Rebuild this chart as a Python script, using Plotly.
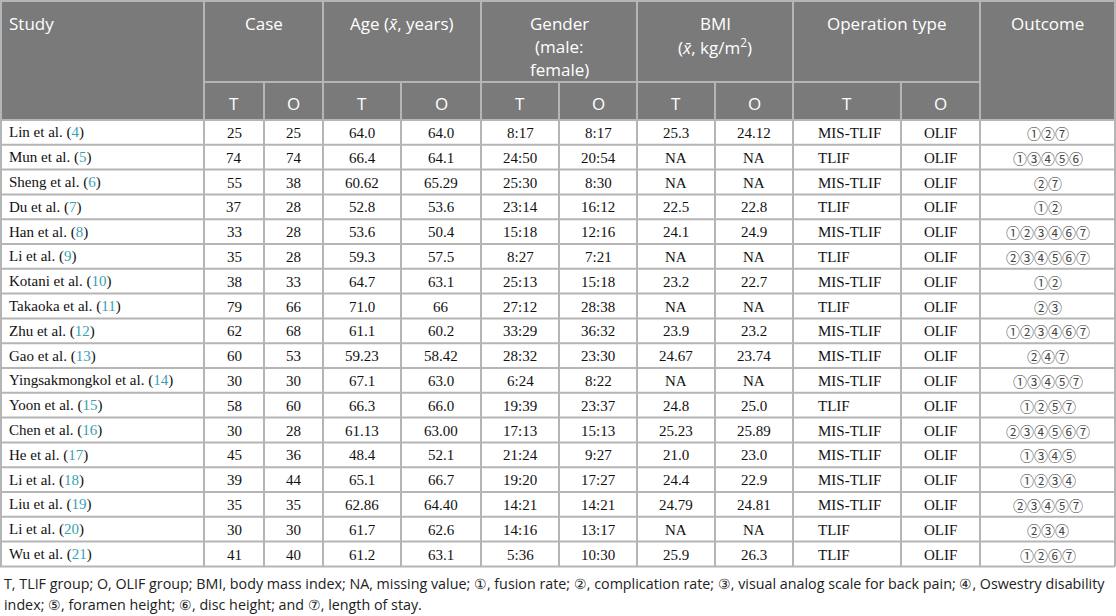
import plotly.graph_objects as go

# ---- table data ----
studies = ["Lin et al.", "Mun et al.", "Sheng et al.", "Du et al.", "Han et al.", "Li et al.",
           "Kotani et al.", "Takaoka et al.", "Zhu et al.", "Gao et al.", "Yingsakmongkol et al.",
           "Yoon et al.", "Chen et al.", "He et al.", "Li et al.", "Liu et al.", "Li et al.", "Wu et al."]
refs = [4, 5, 6, 7, 8, 9, 10, 11, 12, 13, 14, 15, 16, 17, 18, 19, 20, 21]
case_t = ["25", "74", "55", "37", "33", "35", "38", "79", "62", "60", "30", "58", "30", "45", "39", "35", "30", "41"]
case_o = ["25", "74", "38", "28", "28", "28", "33", "66", "68", "53", "30", "60", "28", "36", "44", "35", "30", "40"]
age_t = ["64.0", "66.4", "60.62", "52.8", "53.6", "59.3", "64.7", "71.0", "61.1", "59.23", "67.1",
         "66.3", "61.13", "48.4", "65.1", "62.86", "61.7", "61.2"]
age_o = ["64.0", "64.1", "65.29", "53.6", "50.4", "57.5", "63.1", "66", "60.2", "58.42", "63.0",
         "66.0", "63.00", "52.1", "66.7", "64.40", "62.6", "63.1"]
gender_t = ["8:17", "24:50", "25:30", "23:14", "15:18", "8:27", "25:13", "27:12", "33:29", "28:32",
            "6:24", "19:39", "17:13", "21:24", "19:20", "14:21", "14:16", "5:36"]
gender_o = ["8:17", "20:54", "8:30", "16:12", "12:16", "7:21", "15:18", "28:38", "36:32", "23:30",
            "8:22", "23:37", "15:13", "9:27", "17:27", "14:21", "13:17", "10:30"]
bmi_t = ["25.3", "NA", "NA", "22.5", "24.1", "NA", "23.2", "NA", "23.9", "24.67", "NA",
         "24.8", "25.23", "21.0", "24.4", "24.79", "NA", "25.9"]
bmi_o = ["24.12", "NA", "NA", "22.8", "24.9", "NA", "22.7", "NA", "23.2", "23.74", "NA",
         "25.0", "25.89", "23.0", "22.9", "24.81", "NA", "26.3"]
op_t = ["MIS-TLIF", "TLIF", "MIS-TLIF", "TLIF", "MIS-TLIF", "TLIF", "MIS-TLIF", "TLIF", "MIS-TLIF",
        "MIS-TLIF", "MIS-TLIF", "TLIF", "MIS-TLIF", "MIS-TLIF", "MIS-TLIF", "MIS-TLIF", "TLIF", "TLIF"]
op_o = ["OLIF"] * 18
outcomes = [[1, 2, 7], [1, 3, 4, 5, 6], [2, 7], [1, 2], [1, 2, 3, 4, 6, 7], [2, 3, 4, 5, 6, 7],
            [1, 2], [2, 3], [1, 2, 3, 4, 6, 7], [2, 4, 7], [1, 3, 4, 5, 7], [1, 2, 5, 7],
            [2, 3, 4, 5, 6, 7], [1, 3, 4, 5], [1, 2, 3, 4], [2, 3, 4, 5, 7], [2, 3, 4], [1, 2, 6, 7]]

group_headers = ["Case", "Age (<i>x̄</i>, years)", "Gender<br>(male:<br>female)",
                 "BMI<br>(<i>x̄</i>, kg/m<sup>2</sup>)", "Operation type"]
footnote = [
    "T, TLIF group; O, OLIF group; BMI, body mass index; NA, missing value; ①, fusion rate; "
    "②, complication rate; ③, visual analog scale for back pain; ④, Oswestry disability",
    "index; ⑤, foramen height; ⑥, disc height; and ⑦, length of stay.",
]

# ---- layout geometry ----
X = [0, 204, 264, 323, 401, 481, 559, 637, 715, 793, 901, 980, 1115]
H1, H2 = 82, 120          # header row split / header bottom
RH = 24.8                 # body row height
HEAD_BG = "#7a7a7a"
GRID = "#b5b5b5"
TEAL = "#3a9fb3"
SANS = "'Open Sans', sans-serif"
SERIF = "'Liberation Serif', 'Times New Roman', serif"
CIRC = "'Noto Sans CJK JP', 'DejaVu Sans', sans-serif"

n = len(studies)
bottom = H2 + RH * n

shapes = []
annots = []


def line(x0, y0, x1, y1):
    shapes.append(dict(type="line", x0=x0, y0=y0, x1=x1, y1=y1, xref="x", yref="y",
                       line=dict(color=GRID, width=2), layer="above"))


def text(x, y, s, font, size, color, anchor="center"):
    annots.append(dict(x=x, y=y, text=s, showarrow=False, xref="x", yref="y",
                       xanchor=anchor, yanchor="middle", align=anchor,
                       font=dict(family=font, size=size, color=color)))


# header background
shapes.append(dict(type="rect", x0=X[0], y0=0, x1=X[-1], y1=H2, xref="x", yref="y",
                   fillcolor=HEAD_BG, line=dict(width=0), layer="below"))

# grid
line(X[0], 1, X[-1], 1)
line(X[1], H1, X[11], H1)
for k in range(n + 1):
    line(X[0], H2 + RH * k, X[-1], H2 + RH * k)
for i, x in enumerate(X):
    x = max(x, 1)
    if i in (0, 1, 3, 5, 7, 9, 11, 12):
        line(x, 0, x, bottom)
    else:
        line(x, H1, x, bottom)

# header text
text(7, 23, "Study", SANS, 17, "white", anchor="left")
for g, h in enumerate(group_headers):
    cx = (X[1 + 2 * g] + X[3 + 2 * g]) / 2
    for j, p in enumerate(h.split("<br>")):
        text(cx, 23 + 23 * j, p, SANS, 17, "white")
text((X[11] + X[12]) / 2, 23, "Outcome", SANS, 17, "white")
for c in range(1, 11):
    text((X[c] + X[c + 1]) / 2, 103, "T" if c % 2 == 1 else "O", SANS, 17, "white")

# body text
cols = [case_t, case_o, age_t, age_o, gender_t, gender_o, bmi_t, bmi_o]
for r in range(n):
    y = H2 + RH * r + RH / 2 + 0.5
    text(7, y, f"{studies[r]} (<span style='color:{TEAL}'>{refs[r]}</span>)",
         SERIF, 15, "#111", anchor="left")
    for c, vals in enumerate(cols):
        text((X[c + 1] + X[c + 2]) / 2, y, vals[r], SERIF, 15, "#111")
    text(816, y, op_t[r], SERIF, 15, "#111", anchor="left")
    text((X[10] + X[11]) / 2, y, op_o[r], SERIF, 15, "#111")
    circ = "".join(chr(0x2460 + k - 1) for k in outcomes[r])
    text((X[11] + X[12]) / 2, y, circ, CIRC, 14, "#444")

# footnote
for j, s in enumerate(footnote):
    text(2, 583 + 21 * j, s, SANS, 14.3, "#222", anchor="left")

fig = go.Figure()
fig.update_layout(
    width=1116, height=616,
    margin=dict(l=0, r=0, t=0, b=0),
    paper_bgcolor="white", plot_bgcolor="white",
    xaxis=dict(range=[0, 1116], visible=False, fixedrange=True),
    yaxis=dict(range=[616, 0], visible=False, fixedrange=True),
    shapes=shapes, annotations=annots,
    showlegend=False,
)

fig.write_html("out.html", config={"displayModeBar": False},
               post_script="document.body.style.margin='0px';")
